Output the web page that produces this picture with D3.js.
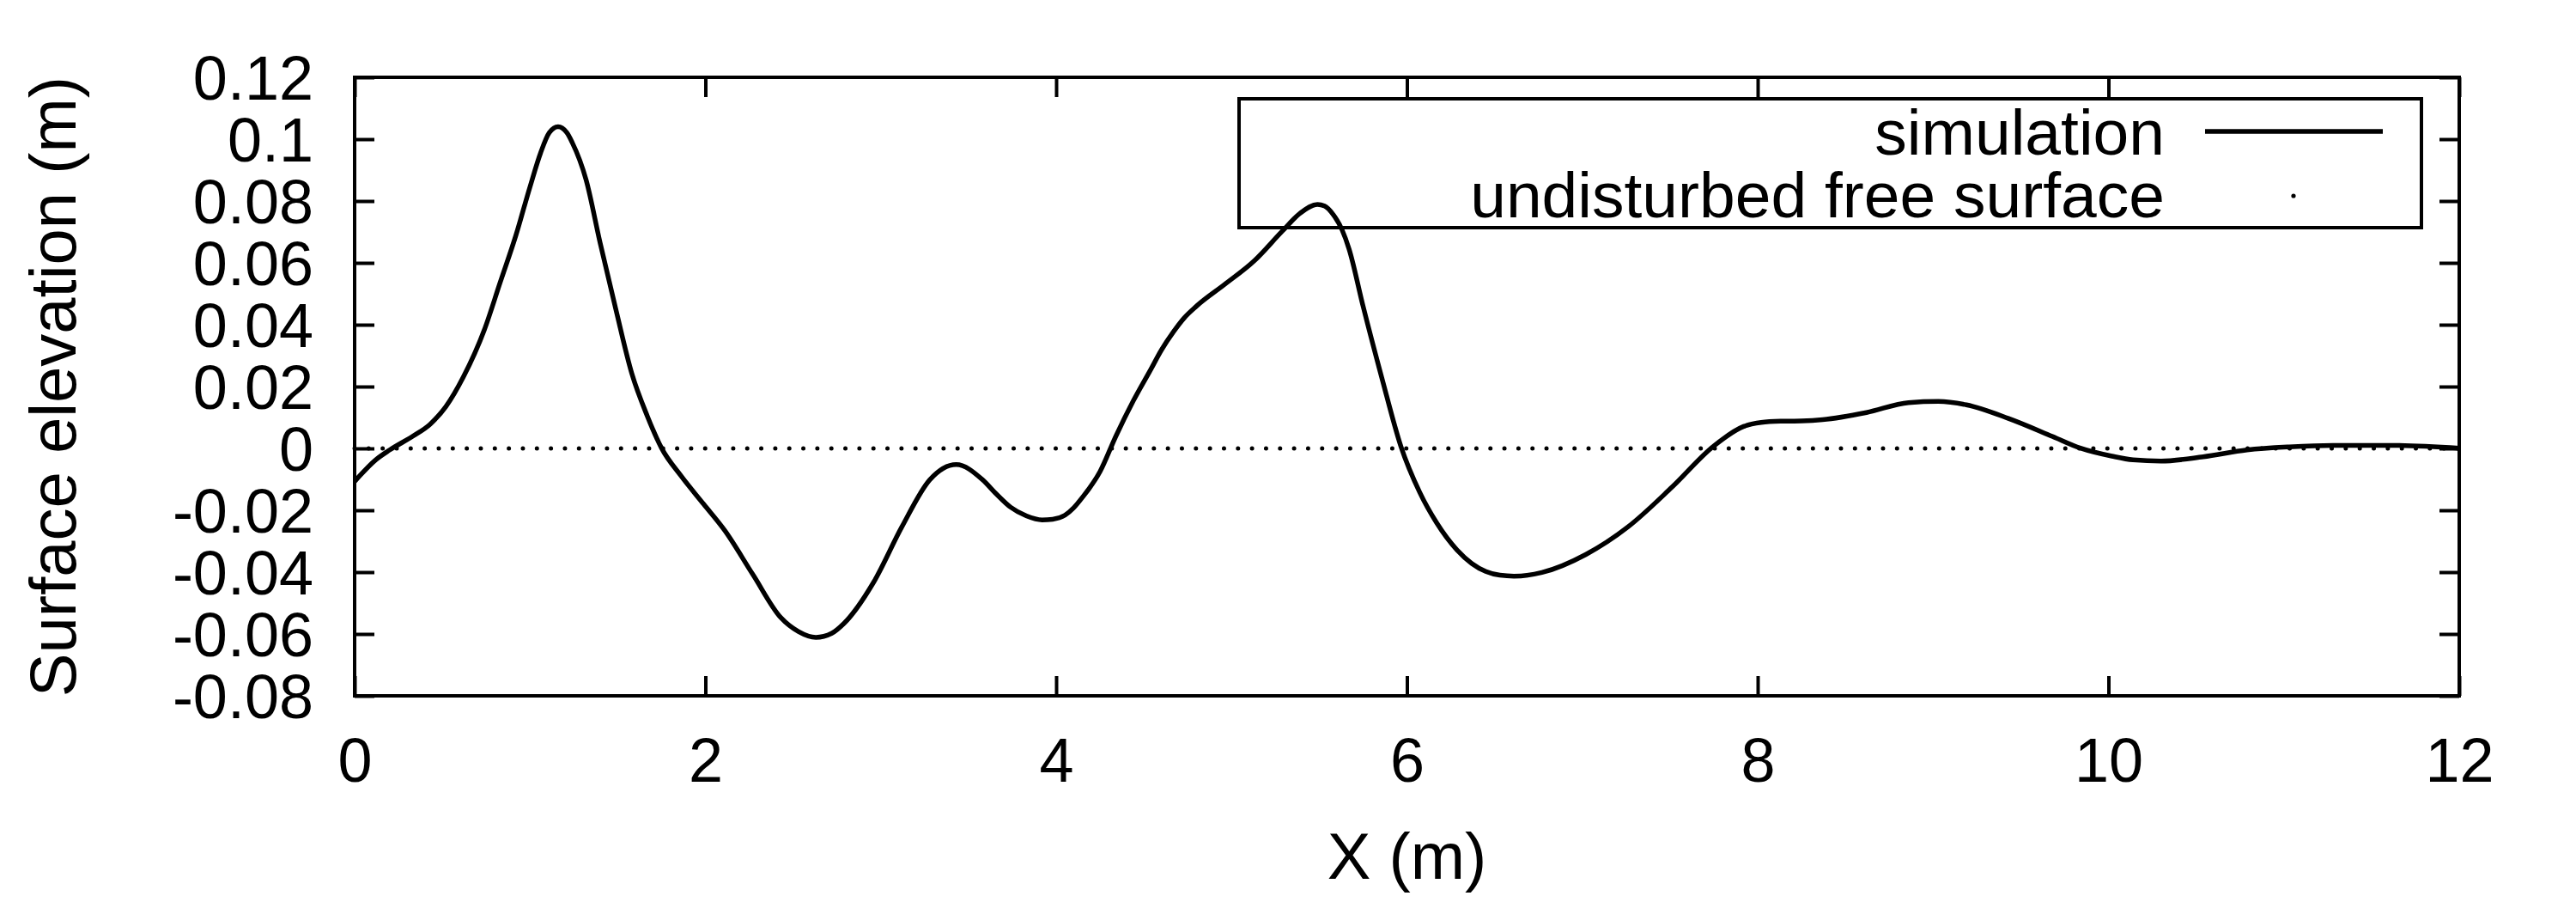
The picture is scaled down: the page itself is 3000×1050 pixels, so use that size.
<!DOCTYPE html>
<html>
<head>
<meta charset="utf-8">
<script src="https://cdn.jsdelivr.net/npm/d3@7"></script>
<style>
  html, body { margin: 0; padding: 0; background: #fff; }
  svg { display: block; }
  text { font-family: "Liberation Sans", Arial, Helvetica, sans-serif; fill: #000; }
</style>
</head>
<body>
<svg id="chart" width="3000" height="1050"></svg>
<script>
// ---- data ----
const xValues = [0, 0.03, 0.12, 0.2, 0.33, 0.43, 0.52, 0.62, 0.74, 0.83, 0.92, 1.0, 1.06, 1.11, 1.16, 1.21, 1.24, 1.32, 1.4, 1.49, 1.58, 1.67, 1.75, 1.86, 1.99, 2.11, 2.27, 2.43, 2.53, 2.63, 2.72, 2.79, 2.96, 3.12, 3.28, 3.43, 3.58, 3.66, 3.74, 3.83, 3.92, 3.98, 4.05, 4.1, 4.15, 4.25, 4.34, 4.44, 4.54, 4.6, 4.67, 4.73, 4.8, 4.96, 5.13, 5.29, 5.39, 5.49, 5.53, 5.58, 5.63, 5.67, 5.75, 5.857, 5.966, 6.073, 6.17, 6.285, 6.37, 6.45, 6.53, 6.61, 6.77, 7.02, 7.26, 7.51, 7.75, 7.92, 8.02, 8.13, 8.25, 8.37, 8.62, 8.86, 9.03, 9.19, 9.43, 9.68, 9.84, 10.02, 10.14, 10.3, 10.54, 10.79, 11.03, 11.28, 11.6, 12.0];
const elevation = [-0.0107, -0.0088, -0.0037, -0.0005, 0.0039, 0.0078, 0.0135, 0.0231, 0.0384, 0.0537, 0.069, 0.0846, 0.0955, 0.1021, 0.104, 0.1021, 0.099, 0.0868, 0.0664, 0.0448, 0.0243, 0.0103, 0.0001, -0.0088, -0.018, -0.0265, -0.0407, -0.0547, -0.0592, -0.0611, -0.0598, -0.0566, -0.0432, -0.0254, -0.0101, -0.0052, -0.0101, -0.0148, -0.019, -0.0218, -0.0231, -0.0229, -0.0216, -0.0192, -0.0158, -0.0075, 0.0039, 0.0154, 0.0256, 0.0318, 0.0378, 0.0422, 0.046, 0.053, 0.0607, 0.0703, 0.076, 0.0789, 0.0784, 0.0756, 0.0707, 0.0645, 0.046, 0.0228, 0.0006, -0.0142, -0.0241, -0.0328, -0.0372, -0.0398, -0.041, -0.0413, -0.0401, -0.0343, -0.0254, -0.0126, 0.0008, 0.0071, 0.0084, 0.0088, 0.0089, 0.0093, 0.0116, 0.0148, 0.0152, 0.0141, 0.0097, 0.0039, 0.0001, -0.0025, -0.0037, -0.0041, -0.0027, -0.0005, 0.0005, 0.001, 0.001, 0.0001];
const freeSurfaceLevel = [0];
const xTicks = [0, 2, 4, 6, 8, 10, 12];
const xTickLabels = ["0", "2", "4", "6", "8", "10", "12"];
const yTicks = [0.12, 0.1, 0.08, 0.06, 0.04, 0.02, 0, -0.02, -0.04, -0.06, -0.08];
const yTickLabels = ["0.12", "0.1", "0.08", "0.06", "0.04", "0.02", "0", "-0.02", "-0.04", "-0.06", "-0.08"];
const seriesNames = ["simulation", "undisturbed free surface"];
const xTitle = "X (m)";
const yTitle = "Surface elevation (m)";

// ---- layout ----
const L = 413, R = 2864, T = 90, B = 810;
const svg = d3.select("#chart");
const x = d3.scaleLinear().domain([0, 12]).range([L, R]);
const y = d3.scaleLinear().domain([-0.08, 0.12]).range([B, T]);
const tickLen = 23;

function styleAxis(g) {
  g.select(".domain").remove();
  g.selectAll(".tick line").attr("stroke", "#000").attr("stroke-width", 4);
}
svg.append("g").attr("transform", `translate(0,${B})`)
  .call(d3.axisBottom(x).tickValues(xTicks).tickSize(-tickLen).tickFormat((d, i) => xTickLabels[i]))
  .call(styleAxis)
  .call(g => g.selectAll("text").attr("y", 100).attr("dy", null)
      .attr("font-size", 72).attr("font-family", "Liberation Sans, Arial, sans-serif"));
svg.append("g").attr("transform", `translate(0,${T})`)
  .call(d3.axisTop(x).tickValues(xTicks).tickSize(-tickLen).tickFormat(""))
  .call(styleAxis);
svg.append("g").attr("transform", `translate(${L},0)`)
  .call(d3.axisLeft(y).tickValues(yTicks).tickSize(-tickLen).tickPadding(48).tickFormat((d, i) => yTickLabels[i]))
  .call(styleAxis)
  .call(g => g.selectAll("text").attr("dy", "0.35em")
      .attr("font-size", 72).attr("font-family", "Liberation Sans, Arial, sans-serif"));
svg.append("g").attr("transform", `translate(${R},0)`)
  .call(d3.axisRight(y).tickValues(yTicks).tickSize(-tickLen).tickFormat(""))
  .call(styleAxis);

// undisturbed free surface (dotted)
svg.append("line")
  .attr("x1", x(0)).attr("x2", x(12))
  .attr("y1", y(freeSurfaceLevel[0])).attr("y2", y(freeSurfaceLevel[0]))
  .attr("stroke", "#000").attr("stroke-width", 5)
  .attr("stroke-linecap", "round").attr("stroke-dasharray", "0,16.33");

// simulation curve
const pts = xValues.map((v, i) => [v, elevation[i]]);
svg.append("path")
  .datum(pts)
  .attr("fill", "none").attr("stroke", "#000").attr("stroke-width", 5.5)
  .attr("stroke-linejoin", "round")
  .attr("d", d3.line().x(d => x(d[0])).y(d => y(d[1])).curve(d3.curveMonotoneX));

// frame
svg.append("rect").attr("x", L).attr("y", T).attr("width", R - L).attr("height", B - T)
  .attr("fill", "none").attr("stroke", "#000").attr("stroke-width", 4);

// legend
const lg = svg.append("g");
lg.append("rect").attr("x", 1443).attr("y", 115).attr("width", 2820 - 1443).attr("height", 265 - 115)
  .attr("fill", "none").attr("stroke", "#000").attr("stroke-width", 4);
lg.append("text").attr("x", 2521).attr("y", 180).attr("text-anchor", "end").attr("font-size", 75).text(seriesNames[0]);
lg.append("line").attr("x1", 2568).attr("x2", 2775).attr("y1", 153).attr("y2", 153)
  .attr("stroke", "#000").attr("stroke-width", 5.5);
lg.append("text").attr("x", 2521).attr("y", 253).attr("text-anchor", "end").attr("font-size", 75).text(seriesNames[1]);
lg.append("circle").attr("cx", 2671).attr("cy", 228).attr("r", 2.6).attr("fill", "#000");

// axis titles
svg.append("text").attr("x", (L + R) / 2).attr("y", 1023).attr("text-anchor", "middle")
  .attr("font-size", 76).text(xTitle);
svg.append("text").attr("transform", `translate(88,${(T + B) / 2}) rotate(-90)`)
  .attr("text-anchor", "middle").attr("font-size", 76).text(yTitle);
</script>
</body>
</html>
